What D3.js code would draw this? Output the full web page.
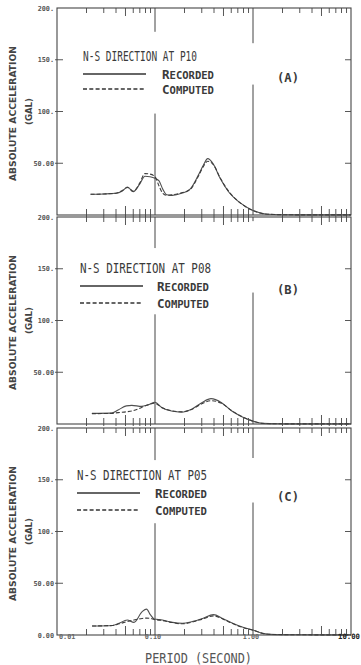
<!DOCTYPE html>
<html>
<head>
<meta charset="utf-8">
<script src="https://cdn.jsdelivr.net/npm/d3@7"></script>
<style>
  body { margin: 0; background: #fff; }
  svg { display: block; }
</style>
</head>
<body>
<svg width="361" height="665"></svg>
<script>
// ---- data: period (s) vs absolute acceleration (gal) ----
var periodsA = [0.022, 0.03, 0.04, 0.046, 0.0525, 0.06, 0.07, 0.079, 0.089, 0.1, 0.11, 0.12, 0.132, 0.15, 0.187, 0.228, 0.277, 0.312, 0.345, 0.395, 0.462, 0.563, 0.713, 0.975, 1.34, 2.0, 4.0, 10.0];
var recordedA = [20, 20.3, 21, 23, 27, 22.5, 30, 37.5, 37, 35.5, 33, 25, 19.5, 19, 21, 25, 38.6, 48.3, 54.5, 49, 35.4, 22.5, 12.9, 4.8, 1.0, 0.3, 0.1, 0.1];
var computedA = [20, 20.3, 21, 23.5, 26.5, 23, 31, 40, 39.5, 37, 28, 21, 19, 19.5, 21.5, 24.5, 37.5, 47, 52, 48.5, 36, 23, 13, 4.8, 1.0, 0.3, 0.1, 0.1];

var periodsB = [0.0227, 0.036, 0.042, 0.051, 0.058, 0.073, 0.085, 0.1, 0.117, 0.147, 0.186, 0.236, 0.3, 0.373, 0.478, 0.608, 0.77, 0.98, 1.25, 1.8, 4.0, 10.0];
var recordedB = [10.3, 10.5, 13.5, 17.5, 18, 17, 18.5, 21, 16, 12.5, 11.5, 14.3, 20.6, 24.5, 20.6, 12.5, 7, 3, 0.6, 0.2, 0.1, 0.1];
var computedB = [10, 10.3, 11, 11.8, 12.5, 16, 18.6, 20, 16, 12.8, 11.8, 14, 19.5, 22.5, 20, 12.8, 7.2, 3, 0.6, 0.2, 0.1, 0.1];

var periodsC = [0.0228, 0.037, 0.043, 0.052, 0.061, 0.074, 0.082, 0.09, 0.098, 0.119, 0.151, 0.19, 0.24, 0.307, 0.395, 0.49, 0.62, 0.79, 1.0, 1.26, 1.5, 3.0, 10.0];
var recordedC = [8.7, 9.2, 11.3, 14.5, 12.2, 22.6, 25, 19.4, 15.5, 14.5, 12.2, 11.3, 13, 16, 19.7, 16, 11.3, 7.4, 4.8, 1.6, 0.6, 0.2, 0.1];
var computedC = [8.7, 9.2, 10.8, 12.9, 14.5, 16, 16.3, 16, 15, 14, 12, 10.8, 12.5, 15.5, 18.5, 15.5, 11, 7.2, 4.6, 1.5, 0.6, 0.2, 0.1];

var panelTitles = ["N-S DIRECTION AT P10", "N-S DIRECTION AT P08", "N-S DIRECTION AT P05"];
var panelTags = ["(A)", "(B)", "(C)"];
var yTicks = [0, 50, 100, 150, 200];
var yTickLabels = ["0.00", "50.00", "100.", "150.", "200."];
var xTicks = [0.01, 0.1, 1, 10];
var xTickLabels = ["0.01", "0.10", "1.00", "10.00"];

// ---- layout ----
var svg = d3.select("svg");
var left = 57, right = 351, panelH = 207;
var panelTops = [8, 217, 428];
var ink = "#454545";

var x = d3.scaleLog().domain([0.01, 10]).range([left, right]);

// legend placement per panel (relative to panel top)
var legendLayout = [
  { x: 83, titleY: 49, titleW: 114, lineY: 66, dashY: 81, textX: 162 },
  { x: 80, titleY: 52, titleW: 131, lineY: 69, dashY: 86, textX: 157 },
  { x: 77, titleY: 48, titleW: 130, lineY: 65, dashY: 82, textX: 155 }
];
// gaps in the 0.1 s and 1.0 s vertical lines (in gal)
var lineGaps = [
  [[98, 177], [126, 166]],
  [[106, 170], [127, 196]],
  [[108, 169], [128, 171]]
];

var panels = [
  { periods: periodsA, recorded: recordedA, computed: computedA },
  { periods: periodsB, recorded: recordedB, computed: computedB },
  { periods: periodsC, recorded: recordedC, computed: computedC }
];

// minor log ticks
var minorTicks = [];
[0.01, 0.1, 1].forEach(function (d) {
  for (var k = 2; k <= 9; k++) minorTicks.push({ v: d * k, five: k === 5 });
});

panels.forEach(function (p, i) {
  var top = panelTops[i];
  var y = d3.scaleLinear().domain([0, 200]).range([top + panelH, top]);
  var g = svg.append("g");

  // frame
  g.append("rect")
    .attr("x", left).attr("y", top)
    .attr("width", right - left).attr("height", panelH)
    .attr("fill", "none").attr("stroke", ink).attr("stroke-width", 1.1);

  // vertical decade lines with gaps
  [0.1, 1].forEach(function (v, j) {
    var gap = lineGaps[i][j];
    [[0, gap[0]], [gap[1], 200]].forEach(function (seg) {
      g.append("line")
        .attr("x1", x(v)).attr("x2", x(v))
        .attr("y1", y(seg[0])).attr("y2", y(seg[1]))
        .attr("stroke", ink).attr("stroke-width", 1);
    });
  });

  // minor ticks top and bottom
  minorTicks.forEach(function (t) {
    var len = t.five ? 8 : 5;
    g.append("line")
      .attr("x1", x(t.v)).attr("x2", x(t.v))
      .attr("y1", top).attr("y2", top + len)
      .attr("stroke", ink).attr("stroke-width", 0.9);
    g.append("line")
      .attr("x1", x(t.v)).attr("x2", x(t.v))
      .attr("y1", top + panelH + (i < 2 ? 2 : 0)).attr("y2", top + panelH - len - 1)
      .attr("stroke", ink).attr("stroke-width", 0.9);
  });

  // y ticks and labels
  yTicks.forEach(function (v, k) {
    if (v > 0 && v < 200) {
      g.append("line").attr("x1", left - 2).attr("x2", left + 6)
        .attr("y1", y(v)).attr("y2", y(v)).attr("stroke", ink).attr("stroke-width", 0.9);
      g.append("line").attr("x1", right - 6).attr("x2", right)
        .attr("y1", y(v)).attr("y2", y(v)).attr("stroke", ink).attr("stroke-width", 0.9);
    }
    var lab = yTickLabels[k];
    if (v === 0 && i < 2) return; // shared border carries next panel's 200.
    g.append("text")
      .attr("x", left - 3).attr("y", y(v) + 2.5)
      .attr("text-anchor", "end")
      .attr("font-family", "DejaVu Sans Mono").attr("font-weight", "bold")
      .attr("font-size", 6.8).attr("fill", "#555")
      .text(lab);
  });

  // curves
  var line = d3.line()
    .x(function (d) { return x(d[0]); })
    .y(function (d) { return y(d[1]); })
    .curve(d3.curveMonotoneX);

  g.append("path")
    .datum(p.periods.map(function (t, k) { return [t, p.recorded[k]]; }))
    .attr("d", line).attr("fill", "none")
    .attr("stroke", "#505050").attr("stroke-width", 1.1);
  g.append("path")
    .datum(p.periods.map(function (t, k) { return [t, p.computed[k]]; }))
    .attr("d", line).attr("fill", "none")
    .attr("stroke", "#3c3c3c").attr("stroke-width", 1.1)
    .attr("stroke-dasharray", "4,2");

  // legend
  var L = legendLayout[i];
  g.append("text")
    .attr("x", L.x).attr("y", top + L.titleY + 4)
    .attr("font-family", "DejaVu Sans Mono").attr("font-size", 14)
    .attr("fill", "#3a3a3a")
    .attr("textLength", L.titleW).attr("lengthAdjust", "spacingAndGlyphs")
    .text(panelTitles[i]);

  g.append("line").attr("x1", L.x).attr("x2", L.x + 63)
    .attr("y1", top + L.lineY).attr("y2", top + L.lineY)
    .attr("stroke", "#333").attr("stroke-width", 1.3);
  g.append("line").attr("x1", L.x).attr("x2", L.x + 63)
    .attr("y1", top + L.dashY).attr("y2", top + L.dashY)
    .attr("stroke", "#333").attr("stroke-width", 1.3)
    .attr("stroke-dasharray", "4,2.3");

  [["R", "ECORDED", L.lineY], ["C", "OMPUTED", L.dashY]].forEach(function (s) {
    var t = g.append("text")
      .attr("x", L.textX).attr("y", top + s[2] + 4.5)
      .attr("font-family", "DejaVu Sans Mono").attr("font-weight", "bold")
      .attr("fill", "#3a3a3a")
      .attr("textLength", 52).attr("lengthAdjust", "spacingAndGlyphs");
    t.append("tspan").attr("font-size", 12.5).text(s[0]);
    t.append("tspan").attr("font-size", 10.5).text(s[1]);
  });

  g.append("text")
    .attr("x", 277).attr("y", top + L.lineY + 8)
    .attr("font-family", "DejaVu Sans Mono").attr("font-weight", "bold")
    .attr("font-size", 13).attr("fill", "#3a3a3a")
    .attr("textLength", 22).attr("lengthAdjust", "spacingAndGlyphs")
    .text(panelTags[i]);

  // y axis title
  var cy = top + panelH / 2 + 2;
  g.append("text")
    .attr("transform", "translate(16," + cy + ") rotate(-90)")
    .attr("text-anchor", "middle")
    .attr("font-family", "DejaVu Sans").attr("font-weight", "bold")
    .attr("font-size", 9.5).attr("fill", "#444")
    .attr("textLength", 135).attr("lengthAdjust", "spacingAndGlyphs")
    .text("ABSOLUTE ACCELERATION");
  g.append("text")
    .attr("transform", "translate(32," + (cy - 2) + ") rotate(-90)")
    .attr("text-anchor", "middle")
    .attr("font-family", "DejaVu Sans").attr("font-weight", "bold")
    .attr("font-size", 9).attr("fill", "#444")
    .attr("textLength", 27).attr("lengthAdjust", "spacingAndGlyphs")
    .text("(GAL)");

  // x tick labels on bottom panel only
  if (i === 2) {
    var by = top + panelH;
    xTicks.forEach(function (v, k) {
      var last = k === xTicks.length - 1;
      var anchor = k === 0 ? "start" : (last ? "end" : "middle");
      var lx = k === 0 ? x(v) + 2 : (last ? 360 : x(v) - 2);
      g.append("text")
        .attr("x", lx)
        .attr("y", by + 4)
        .attr("text-anchor", anchor)
        .attr("font-family", "DejaVu Sans Mono").attr("font-weight", "bold")
        .attr("font-size", last ? 7.3 : 6.8)
        .attr("fill", last ? "#222" : "#666")
        .text(xTickLabels[k]);
    });
  }
});

// x axis title
svg.append("text")
  .attr("x", 198.5).attr("y", 663)
  .attr("text-anchor", "middle")
  .attr("font-family", "DejaVu Sans Mono").attr("font-size", 13.5)
  .attr("fill", "#555")
  .attr("textLength", 107).attr("lengthAdjust", "spacingAndGlyphs")
  .text("PERIOD (SECOND)");
</script>
</body>
</html>
